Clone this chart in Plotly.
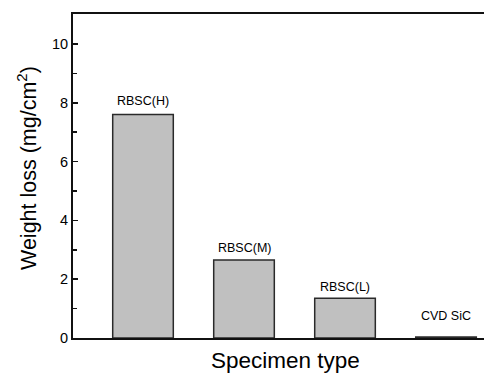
import plotly.graph_objects as go

categories = ["RBSC(H)", "RBSC(M)", "RBSC(L)", "CVD SiC"]
weight_loss = [7.6, 2.65, 1.35, 0.03]
label_shift = [14, 12, 11, 21]  # pixel offsets of labels above bars

x_idx = list(range(len(categories)))

W, H = 484, 374
ML, MT, MB = 73, 14, 36
plot_w = W - ML
plot_h = H - MT - MB

fig = go.Figure()
fig.add_trace(go.Bar(
    x=x_idx, y=weight_loss, width=0.6,
    marker=dict(color="#c0c0c0", line=dict(color="#2a2a2a", width=1.5)),
    hoverinfo="skip",
))

for i, (c, v, s) in enumerate(zip(categories, weight_loss, label_shift)):
    fig.add_annotation(x=i, y=v, text=c, showarrow=False, yshift=s,
                       font=dict(family="Liberation Sans, Arial", size=12.5, color="#000"))

fig.add_annotation(xref="paper", yref="paper", x=(285 - ML) / plot_w, y=0,
                   yshift=-22, text="Specimen type", showarrow=False,
                   font=dict(family="Liberation Sans, Arial", size=22.5, color="#000"),
                   yanchor="middle", xanchor="center")

fig.add_annotation(xref="paper", yref="paper", x=0, xshift=-46,
                   y=(338 - 168) / plot_h, text="Weight loss (mg/cm<sup>2</sup>)",
                   textangle=-90, showarrow=False, xanchor="center", yanchor="middle",
                   font=dict(family="Liberation Sans, Arial", size=21.5, color="#000"))

fig.update_layout(
    width=W, height=H,
    margin=dict(l=ML, r=0, t=MT, b=MB),
    plot_bgcolor="white", paper_bgcolor="white",
    showlegend=False,
    font=dict(family="Liberation Sans, Arial", color="#000"),
    xaxis=dict(range=[-0.693, 3.376], showticklabels=False, ticks="",
               showgrid=False, zeroline=False, showline=True, linecolor="#111",
               linewidth=2, mirror=True),
    yaxis=dict(range=[0, 11.02], tickvals=[0, 2, 4, 6, 8, 10], ticks="inside",
               ticklen=5, tickwidth=1.5, tickcolor="#111", showgrid=False,
               zeroline=False, showline=True, linecolor="#111", linewidth=2,
               tickfont=dict(size=14.5),
               minor=dict(tickvals=[1, 3, 5, 7, 9], ticks="inside", ticklen=4,
                          tickcolor="#111", tickwidth=1.5, showgrid=False)),
)

fig.write_html("out.html",
               config={"displayModeBar": False, "staticPlot": True},
               post_script="document.body.style.margin='0';document.body.style.overflow='hidden';")
